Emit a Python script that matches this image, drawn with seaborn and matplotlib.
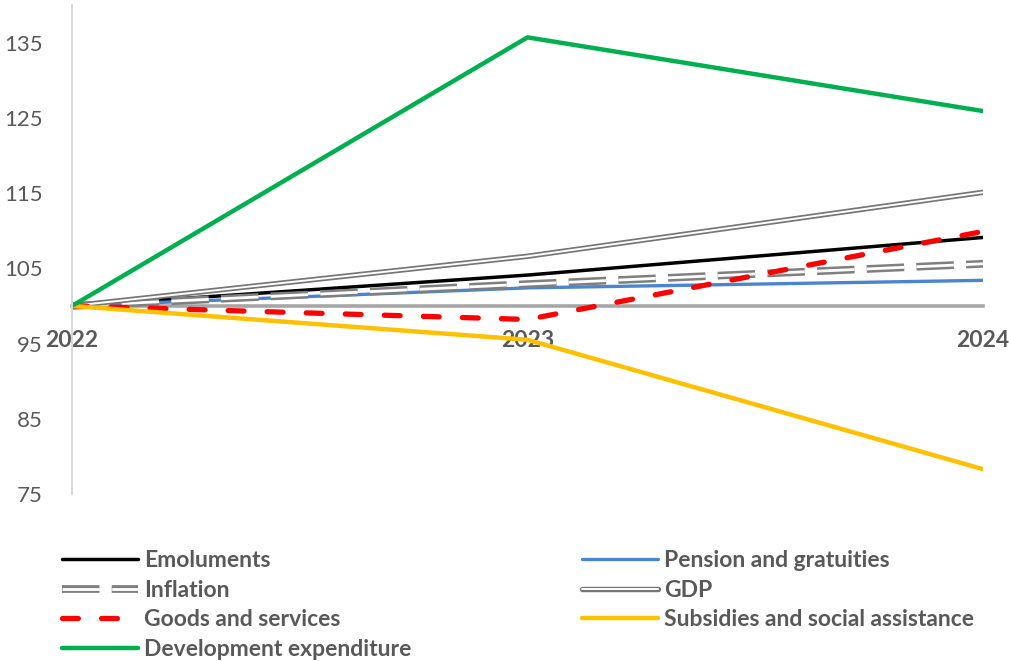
import matplotlib
matplotlib.use("Agg")
import matplotlib.pyplot as plt
import matplotlib.patheffects as pe
import seaborn as sns
import pandas as pd

years = [2022, 2023, 2024]
year_labels = ["2022", "2023", "2024"]
emoluments = [100, 104.1, 109.1]
pension = [100, 102.4, 103.4]
inflation = [100, 102.9, 105.6]
gdp = [100, 106.6, 115.1]
goods = [100, 98.2, 109.9]
subsidies = [100, 95.5, 78.3]
development = [100, 135.7, 125.9]
yticks = [75, 85, 95, 105, 115, 125, 135]

sns.set_theme(style="white")
plt.rcParams['font.family'] = ['Lato', 'DejaVu Sans']

fig = plt.figure(figsize=(10.09, 6.61), dpi=100)
ax = fig.add_axes([72/1009, 1-494/661, (983-72)/1009, (494-5)/661])

txt = "#595959"

def draw(vals, label, **kw):
    sns.lineplot(x=years, y=vals, ax=ax, label=label, **kw)
    return ax.lines[-1]

l_emo = draw(emoluments, "Emoluments", color="black", lw=2.5)
l_pen = draw(pension, "Pension and gratuities", color="#4A86D0", lw=2.4)
l_inf = draw(inflation, "Inflation", color="white", lw=2.0,
             path_effects=[pe.Stroke(linewidth=5.6, foreground="#7F7F7F"), pe.Normal()])
l_inf.set_dashes((13.5, 4.4))
l_gdp = draw(gdp, "GDP", color="white", lw=1.4,
             path_effects=[pe.Stroke(linewidth=3.9, foreground="#767676"), pe.Normal()])
l_goods = draw(goods, "Goods and services", color="#FF0000", lw=3.8)
l_goods.set_dashes((3.0, 4.4))
l_goods.set_dash_capstyle("round")
l_sub = draw(subsidies, "Subsidies and social assistance", color="#FFC000", lw=3.2)
l_dev = draw(development, "Development expenditure", color="#00B050", lw=3.2)

ax.get_legend().remove()

# spines first (set_position resets tick labels)
for s in ["top", "right"]:
    ax.spines[s].set_visible(False)
ax.spines["left"].set_color("#D9D9D9")
ax.spines["left"].set_linewidth(1.5)
ax.spines["bottom"].set_position(("data", 100))
ax.spines["bottom"].set_color("#A6A6A6")
ax.spines["bottom"].set_linewidth(2.6)
ax.spines["bottom"].set_zorder(1)
ax.grid(False)

ax.set_xlim(2022, 2024)
ax.set_ylim(75, 140)
ax.set_yticks(yticks)
ax.set_yticklabels([str(v) for v in yticks], color=txt, fontsize=16)
ax.set_xticks(years)
ax.set_xticklabels(year_labels, color=txt, fontsize=16.5, fontweight="bold")
ax.tick_params(axis="y", length=0, pad=21)
ax.tick_params(axis="x", length=0, pad=17)
ax.set_xlabel("")
ax.set_ylabel("")

lkw = dict(frameon=False, handlelength=3.3, handletextpad=0.3,
           labelspacing=0.38, borderpad=0, borderaxespad=0,
           prop={"weight": "bold", "size": 16.5})
leg1 = fig.legend([l_emo, l_inf, l_goods, l_dev],
                  ["Emoluments", "Inflation", "Goods and services", "Development expenditure"],
                  loc="upper left", bbox_to_anchor=(62/1009, 1-550/661), **lkw)
leg2 = fig.legend([l_pen, l_gdp, l_sub],
                  ["Pension and gratuities", "GDP", "Subsidies and social assistance"],
                  loc="upper left", bbox_to_anchor=(582/1009, 1-550/661), **lkw)
for lg in (leg1, leg2):
    for t in lg.get_texts():
        t.set_color(txt)

fig.savefig("out.png", dpi=100)
